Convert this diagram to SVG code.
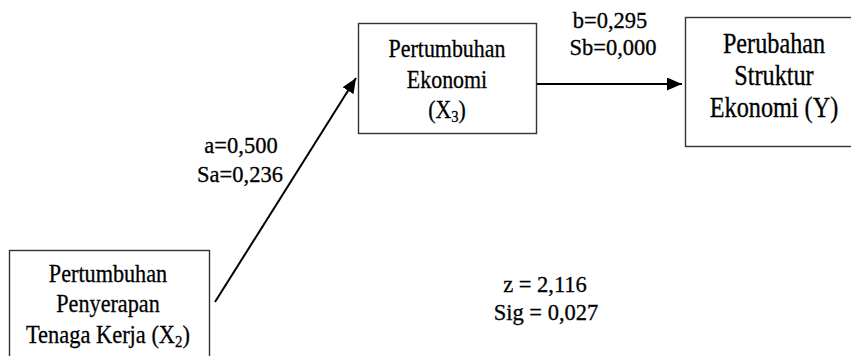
<svg xmlns="http://www.w3.org/2000/svg" width="851" height="356" viewBox="0 0 851 356">
<style>
.box{fill:#fff;stroke:#333;stroke-width:1.4}
text{font-family:"Liberation Serif","Times New Roman","DejaVu Serif",serif;fill:#000;stroke:#000;stroke-width:0.3;text-anchor:middle}
.n{font-size:25.5px}
.n2{font-size:28.5px}
.lbl{font-size:22.5px}
.conn{stroke:#000;stroke-width:2;fill:none;marker-end:url(#ah)}
</style>
<defs>
<marker id="ah" markerUnits="userSpaceOnUse" markerWidth="16" markerHeight="14" refX="15" refY="6.5" orient="auto">
<path d="M0,0 L15,6.5 L0,13 z" fill="#000"/>
</marker>
</defs>
<rect width="851" height="356" fill="#fff"/>
<g id="connectors">
<line class="conn" x1="215" y1="302" x2="356" y2="78"/>
<line class="conn" x1="537" y1="84" x2="682" y2="84"/>
</g>
<g id="node-x2">
<rect class="box" x="9.5" y="250.5" width="200" height="120"/>
<text class="n" transform="translate(108,282) scale(0.87,1)">Pertumbuhan</text>
<text class="n" transform="translate(108,312) scale(0.87,1)">Penyerapan</text>
<text class="n" transform="translate(108,343) scale(0.88,1)">Tenaga Kerja (X<tspan font-size="17" dy="4">2</tspan><tspan dy="-4">)</tspan></text>
</g>
<g id="node-x3">
<rect class="box" x="358.5" y="23.5" width="178" height="110"/>
<text class="n" transform="translate(447,57) scale(0.86,1)">Pertumbuhan</text>
<text class="n" transform="translate(447,88) scale(0.86,1)">Ekonomi</text>
<text class="n" transform="translate(447,118) scale(0.86,1)">(X<tspan font-size="17" dy="4">3</tspan><tspan dy="-4">)</tspan></text>
</g>
<g id="node-y">
<rect class="box" x="685.5" y="17.5" width="180" height="129"/>
<text class="n2" transform="translate(774,53) scale(0.85,1)">Perubahan</text>
<text class="n2" transform="translate(774,85) scale(0.85,1)">Struktur</text>
<text class="n2" transform="translate(774,117) scale(0.85,1)">Ekonomi (Y)</text>
</g>
<g id="labels">
<text class="lbl" x="241" y="153">a=0,500</text>
<text class="lbl" x="240" y="182">Sa=0,236</text>
<text class="lbl" x="610" y="28">b=0,295</text>
<text class="lbl" x="613" y="55">Sb=0,000</text>
<text class="lbl" x="545" y="292">z = 2,116</text>
<text class="lbl" x="546" y="320">Sig = 0,027</text>
</g>
</svg>
